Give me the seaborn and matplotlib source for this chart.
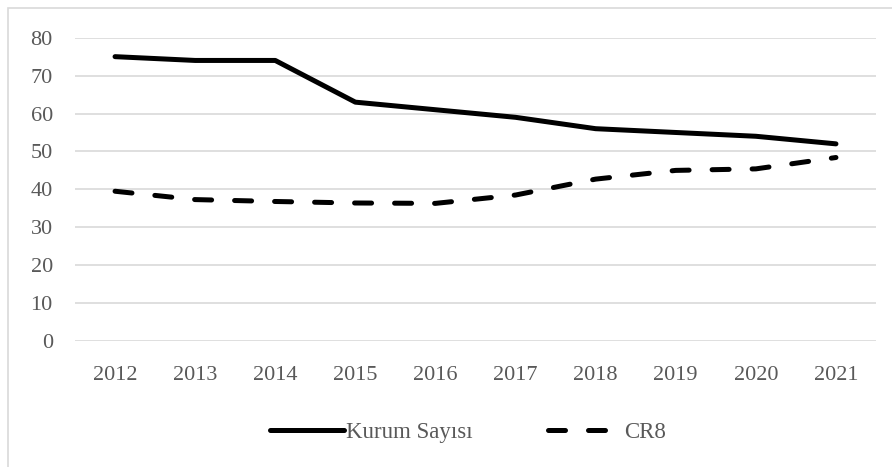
import matplotlib
matplotlib.use("Agg")
import matplotlib.pyplot as plt
from matplotlib.patches import Rectangle
import seaborn as sns
import pandas as pd

years = [2012, 2013, 2014, 2015, 2016, 2017, 2018, 2019, 2020, 2021]
kurum_sayisi = [75, 74, 74, 63, 61, 59, 56, 55, 54, 52]
cr8 = [39.5, 37.3, 36.8, 36.4, 36.3, 38.5, 42.7, 45.0, 45.4, 48.4]
y_ticks = [0, 10, 20, 30, 40, 50, 60, 70, 80]

sns.set_theme(style="white")
plt.rcParams["font.family"] = ["Liberation Serif", "DejaVu Serif"]

text_color = "#595959"
grid_color = "#d9d9d9"

df = pd.DataFrame({"pos": range(len(years)),
                   "Kurum Sayısı": kurum_sayisi,
                   "CR8": cr8})

fig = plt.figure(figsize=(8.92, 4.67), dpi=100)
fig.patches.append(Rectangle((8 / 892, -0.1), 2, 1.1 - 8 / 467,
                             transform=fig.transFigure, fill=False,
                             edgecolor=grid_color, linewidth=1.2))
ax = fig.add_axes([75 / 892, 1 - 341 / 467, 801 / 892, (341 - 37.7) / 467])

lw = 3.6
sns.lineplot(data=df, x="pos", y="Kurum Sayısı", ax=ax, color="black",
             linewidth=lw, label="Kurum Sayısı", solid_capstyle="round")
sns.lineplot(data=df, x="pos", y="CR8", ax=ax, color="black",
             linewidth=lw, label="CR8", dashes=(3.4, 4.6),
             dash_capstyle="round")

ax.set_xlim(-0.5, len(years) - 0.5)
ax.set_ylim(0, 80)
ax.set_yticks(y_ticks)
ax.set_xticks(range(len(years)))
ax.set_xticklabels([str(y) for y in years])
ax.set_xlabel("")
ax.set_ylabel("")
ax.grid(axis="y", color=grid_color, linewidth=1.2)
ax.set_axisbelow(True)
for s in ax.spines.values():
    s.set_visible(False)
ax.tick_params(axis="both", length=0, labelsize=16, labelcolor=text_color)
ax.tick_params(axis="x", pad=18)
ax.tick_params(axis="y", pad=16)

ax.get_legend().remove()
handles, labels = ax.get_legend_handles_labels()
fig.legend(handles, labels, loc="center", bbox_to_anchor=(468 / 892, 1 - 432 / 467),
           ncol=2, frameon=False, fontsize=16.5, labelcolor=text_color,
           handlelength=3.2, handletextpad=0.1, columnspacing=3.3,
           borderpad=0)

fig.savefig("out.png", dpi=100, facecolor="white")
